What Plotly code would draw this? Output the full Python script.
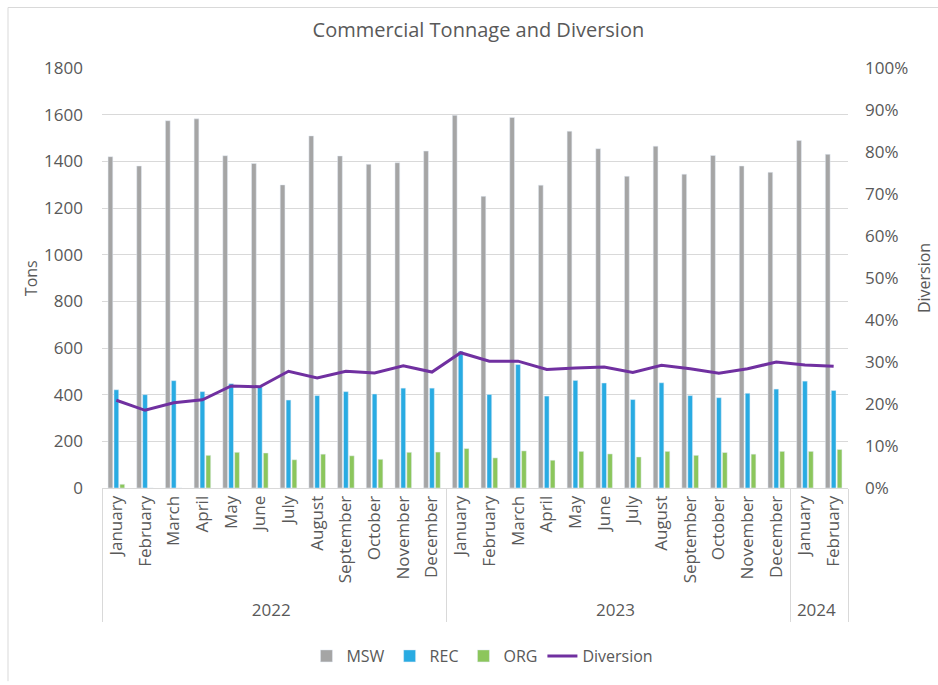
import plotly.graph_objects as go

# Monthly commercial tonnage, Jan 2022 - Feb 2024
years = ["2022"] * 12 + ["2023"] * 12 + ["2024"] * 2
months = ["January", "February", "March", "April", "May", "June", "July",
          "August", "September", "October", "November", "December"] * 2 + ["January", "February"]

msw = [1420, 1380, 1574, 1582, 1424, 1391, 1299, 1509, 1423, 1387, 1394, 1444,
       1597, 1250, 1588, 1298, 1529, 1454, 1336, 1465, 1345, 1425, 1380, 1353,
       1489, 1430]
rec = [421, 400, 460, 413, 447, 435, 377, 396, 413, 403, 428, 428,
       586, 401, 529, 394, 461, 450, 379, 451, 396, 387, 406, 424,
       458, 418]
org = [16, 0, 0, 140, 153, 150, 121, 145, 138, 123, 153, 154,
       169, 129, 159, 119, 157, 146, 133, 157, 140, 152, 145, 157,
       157, 165]
diversion = [0.209, 0.185, 0.203, 0.210, 0.243, 0.241, 0.278, 0.262, 0.278, 0.274, 0.291, 0.276,
             0.322, 0.302, 0.302, 0.282, 0.286, 0.288, 0.275, 0.292, 0.284, 0.273, 0.284, 0.300,
             0.293, 0.290]

FONT = "Open Sans"
TXT = "#595959"
GRID = "#D9D9D9"

x = [years, months]

fig = go.Figure()
fig.add_trace(go.Bar(x=x, y=msw, name="MSW", marker_color="#A5A5A5"))
fig.add_trace(go.Bar(x=x, y=rec, name="REC", marker_color="#29ABE2"))
fig.add_trace(go.Bar(x=x, y=org, name="ORG", marker_color="#8CC65C"))
fig.add_trace(go.Scatter(x=x, y=diversion, name="Diversion", mode="lines",
                         line=dict(color="#7030A0", width=3), yaxis="y2"))

fig.update_layout(
    width=938, height=685,
    margin=dict(l=102, r=90, t=68, b=194),
    paper_bgcolor="white", plot_bgcolor="white",
    font=dict(family=FONT, color=TXT, size=16),
    barmode="group", bargap=0.38, bargroupgap=0.2,
    title=dict(text="Commercial Tonnage and Diversion", x=0.51, xanchor="center",
               y=1 - 30 / 685, yanchor="middle",
               font=dict(size=20, color=TXT, family=FONT)),
    xaxis=dict(type="multicategory", tickangle=-90, showline=True, linecolor=GRID,
               linewidth=1, showdividers=True, dividercolor=GRID, dividerwidth=1,
               tickfont=dict(size=17, color=TXT), automargin=False, showgrid=False),
    yaxis=dict(range=[0, 1800], dtick=200, showgrid=True, gridcolor=GRID, gridwidth=1,
               zeroline=False, ticks="", ticklabelstandoff=18,
               tickfont=dict(size=17, color=TXT), automargin=False),
    yaxis2=dict(range=[0, 1], dtick=0.1, tickformat=".0%", overlaying="y", side="right",
                showgrid=False, zeroline=False, ticks="", ticklabelstandoff=16,
                tickfont=dict(size=17, color=TXT), automargin=False),
    legend=dict(orientation="h", x=0.51, xanchor="center", y=-0.4, yanchor="middle",
                font=dict(size=16, color=TXT), traceorder="normal"),
    annotations=[
        dict(text="Tons", xref="paper", yref="paper", x=-0.095, y=0.5, showarrow=False,
             textangle=-90, font=dict(size=16, color=TXT), xanchor="center", yanchor="middle"),
        dict(text="Diversion", xref="paper", yref="paper", x=1.102, y=0.5, showarrow=False,
             textangle=-90, font=dict(size=16, color=TXT), xanchor="center", yanchor="middle"),
    ],
    shapes=[
        dict(type="line", xref="paper", yref="paper", x0=-0.126, x1=-0.126, y0=1.144, y1=-0.46,
             line=dict(color=GRID, width=1)),
        dict(type="line", xref="paper", yref="paper", x0=-0.126, x1=1.125, y0=1.144, y1=1.144,
             line=dict(color=GRID, width=1)),
    ],
)

fig.write_html("out.html")
